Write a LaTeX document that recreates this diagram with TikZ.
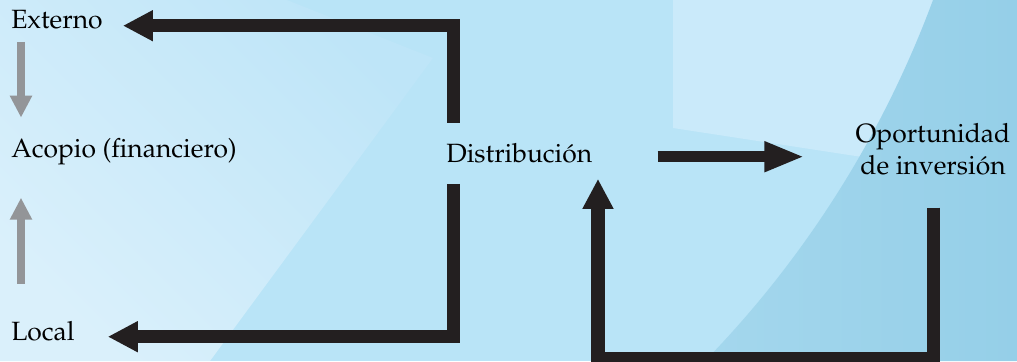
\documentclass[tikz,border=0pt]{standalone}
\usepackage[T1]{fontenc}
\usepackage{mathpazo}
\usetikzlibrary{calc}
\usetikzlibrary{arrows.meta}

\definecolor{skyback}{HTML}{B9E4F7}
\definecolor{skyhaze}{HTML}{BEE5F8}
\definecolor{skymist}{HTML}{DAF0FB}
\definecolor{skypale}{HTML}{CAEAFA}
\definecolor{seanear}{HTML}{A4D7ED}
\definecolor{seafar}{HTML}{95CFE8}
\definecolor{inkblack}{HTML}{231F20}
\definecolor{inkgray}{HTML}{939598}

\begin{document}
\begin{tikzpicture}[x=0.025cm,y=-0.025cm,
  lbl/.style={inner sep=0,anchor=base west,font=\fontsize{18.8}{22.76}\selectfont},
  bigarrow/.style={inkblack,line width=0.325cm,line join=miter,-{Triangle[length=0.75cm,width=0.725cm]}},
  midarrow/.style={inkblack,line width=0.28cm,-{Triangle[length=1cm,width=0.7cm]}},
  grayarrow/.style={inkgray,line width=0.2cm,-{Triangle[length=0.55cm,width=0.525cm]}}]

\clip (0,0) rectangle (1017,361);

% backdrop
\fill[skyback] (0,0) rectangle (1017,361);
\shade[top color=skyhaze,bottom color=skymist,shading angle=-45]
  (0,0) -- (287,0) -- (433,58) -- (210,361) -- (0,361) -- cycle;
\fill[skypale] (673,0) -- (673,128) -- (960,172) -- (960,0) -- cycle;
\shade[left color=seanear,right color=seafar]
  (933,0) -- (1017,0) -- (1017,361) -- (705,361)
  arc[start angle=44.2,end angle=20.35,radius=1033.5] -- cycle;

\node[lbl] (ext) at (11,29) {Externo};
\node[lbl] (aco) at (11,157) {Acopio (financiero)};
\node[lbl] (loc) at (11,340) {Local};
\node[lbl] (dist) at (446,162) {Distribuci\'on};
\node[lbl,anchor=center,align=center] (opp) at (933,149.4) {Oportunidad\\de inversi\'on};

\draw[bigarrow] ($(dist.north west)+(7.5,-20)$) |- ($(ext.mid east)+(20,0)$);
\draw[bigarrow] ($(dist.south west)+(7.5,21)$) |- ($(loc.mid east)+(33,0)$);
\draw[midarrow] ($(dist.mid east)+(65,-2)$) -- ($(dist.mid east -| opp.west)+(-51,-2)$);
\draw[bigarrow] ($(opp.south)+(0,32)$) -- ++(0,150.5) -| ($(dist.south east)+(5.5,16)$);

\draw[grayarrow] ($(ext.south west)+(10,12)$) -- ($(aco.north west)+(10,-20)$);
\draw[grayarrow] ($(loc.north west)+(10,-37)$) -- ($(aco.south west)+(10,33)$);

\end{tikzpicture}
\end{document}
